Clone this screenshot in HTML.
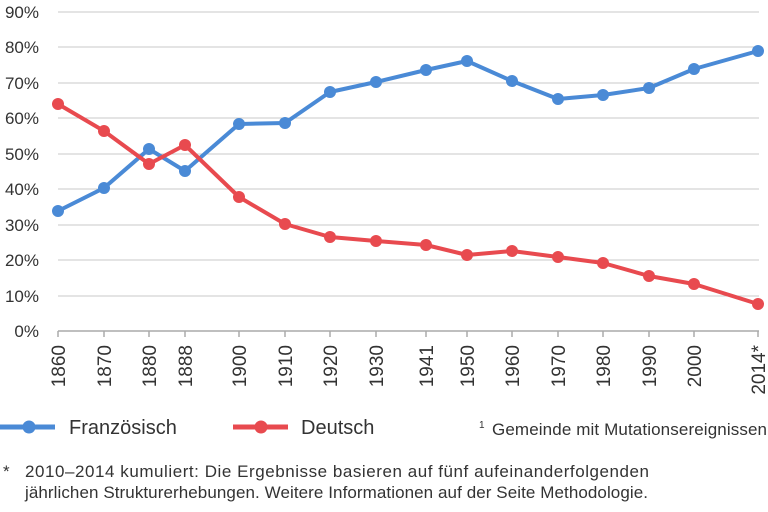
<!DOCTYPE html>
<html><head><meta charset="utf-8"><style>
body{margin:0;background:#fff;width:768px;height:507px;overflow:hidden}
svg text{font-family:"Liberation Sans",sans-serif;fill:#333}
</style></head><body>
<svg width="768" height="507" viewBox="0 0 768 507">
<g stroke="#c8c8c8" stroke-width="1">
<line x1="58" y1="12" x2="759" y2="12"/><line x1="58" y1="47" x2="759" y2="47"/>
<line x1="58" y1="83" x2="759" y2="83"/><line x1="58" y1="118" x2="759" y2="118"/>
<line x1="58" y1="154" x2="759" y2="154"/><line x1="58" y1="189" x2="759" y2="189"/>
<line x1="58" y1="225" x2="759" y2="225"/><line x1="58" y1="260" x2="759" y2="260"/>
<line x1="58" y1="296" x2="759" y2="296"/>
</g>
<line x1="58" y1="331" x2="759" y2="331" stroke="#aaa" stroke-width="1.5"/>
<g stroke="#aaa" stroke-width="1.5">
<line x1="58" y1="331" x2="58" y2="337"/><line x1="104" y1="331" x2="104" y2="337"/><line x1="149" y1="331" x2="149" y2="337"/><line x1="185" y1="331" x2="185" y2="337"/><line x1="239" y1="331" x2="239" y2="337"/><line x1="285" y1="331" x2="285" y2="337"/><line x1="330" y1="331" x2="330" y2="337"/><line x1="376" y1="331" x2="376" y2="337"/><line x1="426" y1="331" x2="426" y2="337"/><line x1="467" y1="331" x2="467" y2="337"/><line x1="512" y1="331" x2="512" y2="337"/><line x1="558" y1="331" x2="558" y2="337"/><line x1="603" y1="331" x2="603" y2="337"/><line x1="649" y1="331" x2="649" y2="337"/><line x1="694" y1="331" x2="694" y2="337"/><line x1="758" y1="331" x2="758" y2="337"/>
</g>
<g font-size="17" text-anchor="end">
<text x="39" y="18">90%</text><text x="39" y="53">80%</text><text x="39" y="89">70%</text><text x="39" y="124">60%</text><text x="39" y="160">50%</text><text x="39" y="195">40%</text><text x="39" y="231">30%</text><text x="39" y="266">20%</text><text x="39" y="302">10%</text><text x="39" y="337">0%</text>
</g>
<g font-size="19" text-anchor="end">
<text transform="translate(65,345) rotate(-90)">1860</text>
<text transform="translate(111,345) rotate(-90)">1870</text>
<text transform="translate(156,345) rotate(-90)">1880</text>
<text transform="translate(192,345) rotate(-90)">1888</text>
<text transform="translate(246,345) rotate(-90)">1900</text>
<text transform="translate(292,345) rotate(-90)">1910</text>
<text transform="translate(337,345) rotate(-90)">1920</text>
<text transform="translate(383,345) rotate(-90)">1930</text>
<text transform="translate(433,345) rotate(-90)">1941</text>
<text transform="translate(474,345) rotate(-90)">1950</text>
<text transform="translate(519,345) rotate(-90)">1960</text>
<text transform="translate(565,345) rotate(-90)">1970</text>
<text transform="translate(610,345) rotate(-90)">1980</text>
<text transform="translate(656,345) rotate(-90)">1990</text>
<text transform="translate(701,345) rotate(-90)">2000</text>
<text transform="translate(765,345) rotate(-90)">2014*</text>
</g>
<polyline fill="none" stroke="#4a8ad6" stroke-width="4" stroke-linejoin="round" points="58,211 104,188 149,149 185,171 239,124 285,123 330,92 376,82 426,70 467,61 512,81 558,99 603,95 649,88 694,69 758,51"/>
<polyline fill="none" stroke="#e84a4f" stroke-width="4" stroke-linejoin="round" points="58,104 104,131 149,164 185,145 239,197 285,224 330,237 376,241 426,245 467,255 512,251 558,257 603,263 649,276 694,284 758,304"/>
<g fill="#4a8ad6">
<circle cx="58" cy="211" r="6"/><circle cx="104" cy="188" r="6"/><circle cx="149" cy="149" r="6"/><circle cx="185" cy="171" r="6"/><circle cx="239" cy="124" r="6"/><circle cx="285" cy="123" r="6"/><circle cx="330" cy="92" r="6"/><circle cx="376" cy="82" r="6"/><circle cx="426" cy="70" r="6"/><circle cx="467" cy="61" r="6"/><circle cx="512" cy="81" r="6"/><circle cx="558" cy="99" r="6"/><circle cx="603" cy="95" r="6"/><circle cx="649" cy="88" r="6"/><circle cx="694" cy="69" r="6"/><circle cx="758" cy="51" r="6"/>
</g>
<g fill="#e84a4f">
<circle cx="58" cy="104" r="6"/><circle cx="104" cy="131" r="6"/><circle cx="149" cy="164" r="6"/><circle cx="185" cy="145" r="6"/><circle cx="239" cy="197" r="6"/><circle cx="285" cy="224" r="6"/><circle cx="330" cy="237" r="6"/><circle cx="376" cy="241" r="6"/><circle cx="426" cy="245" r="6"/><circle cx="467" cy="255" r="6"/><circle cx="512" cy="251" r="6"/><circle cx="558" cy="257" r="6"/><circle cx="603" cy="263" r="6"/><circle cx="649" cy="276" r="6"/><circle cx="694" cy="284" r="6"/><circle cx="758" cy="304" r="6"/>
</g>
<line x1="0" y1="427" x2="55" y2="427" stroke="#4a8ad6" stroke-width="5"/><circle cx="29" cy="427" r="6.5" fill="#4a8ad6"/>
<text x="69" y="434" font-size="20">Französisch</text>
<line x1="233" y1="427" x2="288" y2="427" stroke="#e84a4f" stroke-width="5"/><circle cx="261" cy="427" r="6.5" fill="#e84a4f"/>
<text x="301" y="434" font-size="20">Deutsch</text>
<text x="479" y="428" font-size="10">1</text>
<text x="492" y="435" font-size="17" textLength="275">Gemeinde mit Mutationsereignissen</text>
<text x="3" y="477" font-size="17">*</text>
<text x="25" y="477" font-size="17" textLength="624">2010–2014 kumuliert: Die Ergebnisse basieren auf fünf aufeinanderfolgenden</text>
<text x="25" y="498" font-size="17" textLength="623">jährlichen Strukturerhebungen. Weitere Informationen auf der Seite Methodologie.</text>
</svg>
</body></html>
